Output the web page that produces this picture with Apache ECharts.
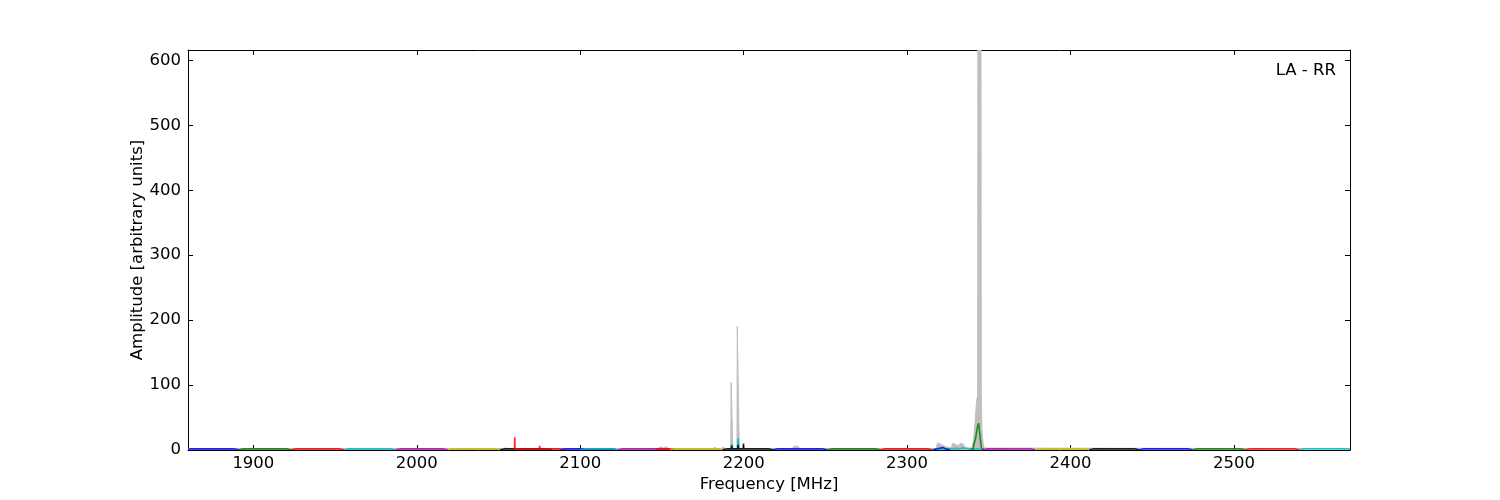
<!DOCTYPE html>
<html>
<head>
<meta charset="utf-8">
<script src="https://cdn.jsdelivr.net/npm/echarts@6/dist/echarts.min.js"></script>
<style>html,body{margin:0;padding:0;background:#fff;}#c{width:1500px;height:500px;}</style>
</head>
<body>
<div id="c"></div>
<script>
// ---- data ----
const xTicks = [1900, 2000, 2100, 2200, 2300, 2400, 2500];
const yTicks = [0, 100, 200, 300, 400, 500, 600];
const xRange = [1860, 2571];
const yRange = [0, 616];
const panelLabel = 'LA - RR';

// grey envelope (max over all sweeps)
const envelope = [
  [1860,2],[2052,2],[2055,3],[2058,2],[2147,2],[2149.5,5],[2151,3],[2152.5,5],[2154,2],
  [2181,2],[2182.5,4],[2184,2],[2186,2],[2187.5,4],[2189,2],
  [2192.1,2],[2192.3,104],[2193.2,104],[2193.4,2],
  [2195.9,2],[2196.1,191],[2197.1,191],[2197.3,2],
  [2229.5,2],[2231,6],[2233,6],[2234.5,2],[2241,2],[2242,3],[2243,2],
  [2317.8,2],[2318.6,11],[2320.5,9],[2322.5,6],[2323.6,3],[2327,3],[2327.8,10],[2329.5,9],[2331,6],[2332.5,10],[2334.5,9],[2335.5,3],
  [2339.5,3],[2340.5,12],[2341.5,40],[2342.5,75],[2343.2,85],[2343.3,616],[2345.2,616],[2345.4,85],[2345.8,30],[2346.5,10],[2347.2,3],
  [2571,2]
];

const bandColors = [
  '#0000ff','#008000','#ff0000','#00bfbf','#bf00bf','#bfbf00','#000000','#ff0000',
  '#0000ff','#00bfbf','#bf00bf','#ff0000','#bfbf00','#00bfbf','#000000','#0000ff',
  '#008000','#ff0000','#00bfbf','#0000ff','#008000','#bf00bf','#bfbf00','#000000',
  '#0000ff','#008000','#ff0000','#00bfbf'
];
const bandLines = [
  [[1860,1.6],[1862,1.8],[1888,1.8],[1891,0.4]],
  [[1891,0.4],[1894,1.8],[1920,1.8],[1923,0.4]],
  [[1923,0.4],[1926,1.8],[1952.5,1.8],[1955.5,0.4]],
  [[1955.5,0.4],[1958.5,1.8],[1984,1.8],[1987,0.4]],
  [[1987,0.4],[1990,1.8],[2016,1.8],[2019,0.4]],
  [[2019,0.4],[2022,1.8],[2048,1.8],[2051,0.4]],
  [[2051,0.4],[2054,1.8],[2080,1.8],[2083,0.4]],
  [[2059.8,1.8],[2059.9,19.5],[2060.1,1.8],[2075,1.8],[2075.2,6.5],[2075.4,1.8],[2087.5,1.8],[2090.5,0.4]],
  [[2088,0.4],[2091,1.8],[2119,1.8],[2122,0.4]],
  [[2100,0.4],[2103,1.8],[2120,1.8],[2123,0.4]],
  [[2123,0.4],[2126,1.8],[2152,1.8],[2155,0.4]],
  [[2146,0.4],[2149,1.8],[2155,1.8],[2158,0.4]],
  [[2155,0.4],[2158,1.8],[2184,1.8],[2187,0.4]],
  [[2191,1.5],[2192.4,1.8],[2192.7,9],[2193,1.8],[2196.2,1.8],[2196.6,18],[2197,1.8],[2198,1.5]],
  [[2187,0.4],[2190,1.8],[2192.5,1.8],[2192.7,7],[2192.9,1.8],[2196.4,1.8],[2196.6,8],[2196.8,1.8],[2199.7,1.8],[2199.9,10],[2200.1,1.8],[2215,1.8],[2218,0.4]],
  [[2218,0.4],[2221,1.8],[2248,1.8],[2251,0.4]],
  [[2251,0.4],[2254,1.8],[2280.5,1.8],[2283.7,0.4]],
  [[2283.7,0.4],[2286.7,1.8],[2312.5,1.8],[2315.5,0.4]],
  [[2315.5,0.4],[2318,1.8],[2327,1.8],[2328,3],[2330,2.5],[2332,1.8],[2334,3],[2336,2.5],[2338,1.8],[2343,1.8],[2346,0.4]],
  [[2316,0.5],[2318.5,1.8],[2319.5,4],[2322,4],[2323.5,1.8],[2326,0.5]],
  [[2339,0.5],[2340.4,1.8],[2341,10],[2341.8,17],[2342.5,19],[2343.1,36],[2343.8,41],[2344.4,38],[2344.9,15],[2345.5,3],[2346,1.8],[2347,0.5]],
  [[2346,0.4],[2349,1.8],[2375.5,1.8],[2378.5,0.4]],
  [[2378.5,0.4],[2381.5,1.8],[2408.5,1.8],[2411.5,0.4]],
  [[2411.5,0.4],[2414.5,1.8],[2439,1.8],[2442,0.4]],
  [[2442,0.4],[2445,1.8],[2471.6,1.8],[2474.6,0.4]],
  [[2474.6,0.4],[2477.6,1.8],[2504,1.8],[2507,0.4]],
  [[2507,0.4],[2510,1.8],[2537,1.8],[2540,0.4]],
  [[2540,0.4],[2543,1.8],[2568,1.8],[2571,1.2]]
];

// ---- chart ----
const FONT = 'DejaVu Sans';
const FS = 16.5;
const chart = echarts.init(document.getElementById('c'), null, {renderer: 'canvas'});

const series = [{
  type: 'line', data: envelope, showSymbol: false, z: 1,
  lineStyle: {color: '#bfbfbf', width: 1},
  areaStyle: {color: '#bfbfbf', opacity: 1},
  silent: true
}];
bandLines.forEach((pts, i) => {
  series.push({
    type: 'line', data: pts, showSymbol: false, z: 3 + i,
    lineStyle: {color: bandColors[i], width: 1.6, opacity: 0.85, cap: 'butt'},
    silent: true
  });
});

const plain = v => String(v);
const axisCommon = {
  type: 'value', min: xRange[0], max: xRange[1],
  splitLine: {show: false},
  axisLine: {show: true, onZero: false, lineStyle: {color: '#000', width: 1}}
};

chart.setOption({
  animation: false,
  backgroundColor: '#fff',
  grid: {left: 188, right: 150, top: 50, bottom: 50, containLabel: false},
  graphic: [{
    type: 'text', right: 164, top: 62, z: 100,
    style: {text: panelLabel, font: FS + 'px "' + FONT + '"', fill: '#000'}
  }],
  xAxis: [
    Object.assign({}, axisCommon, {
      position: 'bottom',
      name: 'Frequency [MHz]', nameLocation: 'middle', nameGap: 26, nameMoveOverlap: false,
      nameTextStyle: {fontFamily: FONT, fontSize: FS, color: '#000'},
      axisTick: {show: true, inside: true, length: 5, customValues: xTicks, lineStyle: {color: '#000'}},
      axisLabel: {show: true, margin: 5, customValues: xTicks, formatter: plain, fontFamily: FONT, fontSize: FS, color: '#000'}
    }),
    Object.assign({}, axisCommon, {
      position: 'top',
      axisTick: {show: true, inside: true, length: 5, customValues: xTicks, lineStyle: {color: '#000'}},
      axisLabel: {show: false}
    })
  ],
  yAxis: [
    {
      type: 'value', min: yRange[0], max: yRange[1], position: 'left',
      splitLine: {show: false},
      axisLine: {show: true, onZero: false, lineStyle: {color: '#000', width: 1}},
      name: 'Amplitude [arbitrary units]', nameLocation: 'middle', nameGap: 42, nameMoveOverlap: false,
      nameTextStyle: {fontFamily: FONT, fontSize: FS, color: '#000'},
      axisTick: {show: true, inside: true, length: 5, customValues: yTicks, lineStyle: {color: '#000'}},
      axisLabel: {show: true, margin: 7, customValues: yTicks, formatter: plain, fontFamily: FONT, fontSize: FS, color: '#000'}
    },
    {
      type: 'value', min: yRange[0], max: yRange[1], position: 'right',
      splitLine: {show: false},
      axisLine: {show: true, onZero: false, lineStyle: {color: '#000', width: 1}},
      axisTick: {show: true, inside: true, length: 5, customValues: yTicks, lineStyle: {color: '#000'}},
      axisLabel: {show: false}
    }
  ],
  series: series
});
</script>
</body>
</html>
